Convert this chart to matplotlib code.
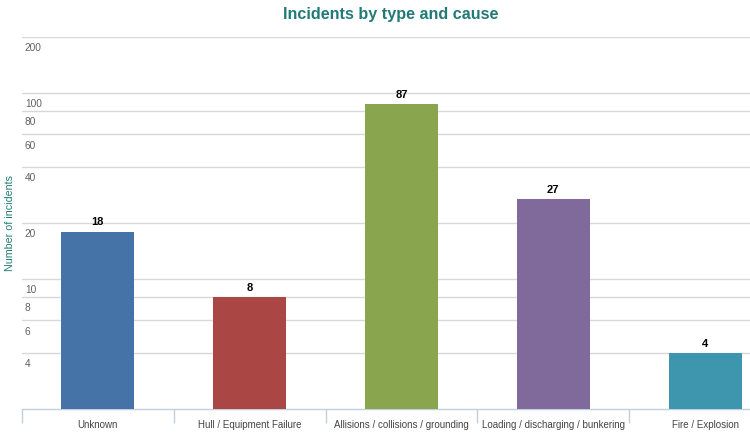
import numpy as np
import matplotlib.pyplot as plt
import matplotlib.transforms as mtransforms

plt.rcParams['font.family'] = ['Liberation Sans', 'DejaVu Sans']

categories = ['Unknown', 'Hull / Equipment Failure', 'Allisions / collisions / grounding',
              'Loading / discharging / bunkering', 'Fire / Explosion']
counts = [18, 8, 87, 27, 4]
colors = ['#4572a7', '#aa4643', '#89a54e', '#80699b', '#3d96ae']
ytick_values = [4, 6, 8, 10, 20, 40, 60, 80, 100, 200]

fig = plt.figure(figsize=(7.5, 4.34), dpi=100)
W, H = 750, 434
# plot area spans past the right edge, as in the cropped original
ax = fig.add_axes([22 / W, (H - 409) / H, 759 / W, 372 / H])

x = np.arange(len(categories))
bars = ax.bar(x, counts, width=0.48, color=colors, zorder=3)

ax.set_yscale('log')
ax.set_ylim(2, 200)
ax.set_xlim(-0.5, len(categories) - 0.5)

# gridlines at the chosen ticks, labels drawn inside the plot under each line
ax.set_yticks(ytick_values)
ax.yaxis.set_minor_locator(plt.NullLocator())
ax.set_yticklabels([])
ax.tick_params(axis='y', length=0)
ax.yaxis.grid(True, color='#d8d8d8', linewidth=1, zorder=0)
offset = mtransforms.ScaledTranslation(2 / 72, -4.5 / 72, fig.dpi_scale_trans)
trans = mtransforms.blended_transform_factory(ax.transAxes, ax.transData) + offset
for v in ytick_values:
    ax.text(0, v, str(v), transform=trans, ha='left', va='top',
            fontsize=7.3, color='#606060')

# category axis
ax.set_xticks(x)
ax.set_xticklabels(categories, fontsize=7, color='#444444')
ax.tick_params(axis='x', length=0, pad=8)
ax.set_xticks(np.arange(len(categories) + 1) - 0.5, minor=True)
ax.tick_params(axis='x', which='minor', length=10, color='#c0d0e0', width=1)

for side in ['top', 'right', 'left']:
    ax.spines[side].set_visible(False)
ax.spines['bottom'].set_color('#c0d0e0')
ax.spines['bottom'].set_linewidth(1)

for b, n in zip(bars, counts):
    ax.annotate(str(n), (b.get_x() + b.get_width() / 2, n), xytext=(0, 3),
                textcoords='offset points', ha='center', va='bottom',
                fontsize=8, fontweight='bold', color='#000000')

fig.text(391 / W, 1 - 15 / H, 'Incidents by type and cause', ha='center', va='center',
         fontsize=11.6, fontweight='bold', color='#217a78')
fig.text(10 / W, 1 - 223 / H, 'Number of incidents', rotation=90, ha='center', va='center',
         fontsize=7.7, color='#217a78')

fig.savefig('out.png', dpi=100)
